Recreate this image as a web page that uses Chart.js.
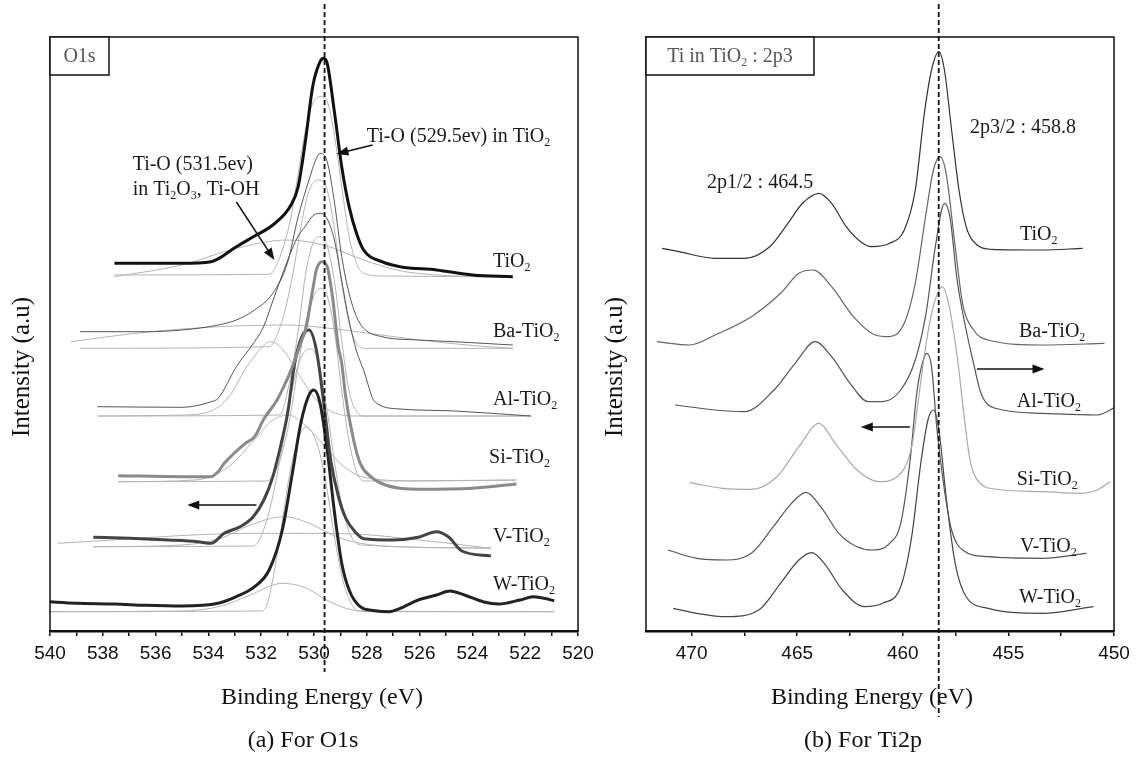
<!DOCTYPE html>
<html>
<head>
<meta charset="utf-8">
<script src="https://cdn.jsdelivr.net/npm/chart.js@4.4.1/dist/chart.umd.min.js"></script>
<style>
  html, body { margin: 0; padding: 0; background: #fff; }
  #wrap { position: relative; width: 1139px; height: 758px; }
  #o1sChart { position: absolute; left: 0; top: 0; }
  #ti2pChart { position: absolute; left: 595px; top: 0; }
</style>
</head>
<body>
<div id="wrap">
  <canvas id="o1sChart" width="595" height="758"></canvas>
  <canvas id="ti2pChart" width="544" height="758"></canvas>
</div>
<script>
// tick values (eV)
const O1S_TICKS = [520, 521, 522, 523, 524, 525, 526, 527, 528, 529, 530, 531, 532, 533, 534, 535, 536, 537, 538, 539, 540];
const TI2P_TICKS = [450, 452.5, 455, 457.5, 460, 462.5, 465, 467.5, 470];

// O1s spectra [binding energy, intensity a.u.]
const O1S_TIO2 = [[537.56,367.7],[535.0,367.7],[533.9,369.3],[532.94,384.3],[532.25,395],[531.56,406],[530.87,426],[530.6,444.3],[530.32,491],[530.05,544.3],[529.77,569.3],[529.64,572.7],[529.5,567.7],[529.22,517.7],[528.95,464.3],[528.67,424.3],[528.39,397.7],[528.12,381],[527.43,369.3],[526.74,364.3],[525.36,361],[523.99,356],[522.47,354.3]];
const O1S_TIO2_FIT1 = [[537.56,356],[531.7,356.7],[531.56,359.3],[531.2,381],[530.87,414.3],[530.6,457.7],[530.32,501],[530.05,527.7],[529.77,534.3],[529.5,529.3],[529.22,494.3],[528.95,444.3],[528.67,394.3],[528.39,367.7],[528.12,357.7],[527.4,355],[522.47,354.3]];
const O1S_TIO2_FIT2 = [[537.56,354.3],[535.0,366],[532.94,382.7],[531.01,391],[529.64,386],[528.12,371],[526.74,360.3],[525.36,356],[522.47,353.7]];

const O1S_BA = [[538.86,299.3],[536.38,299.3],[535.0,301],[533.63,306],[532.94,311],[532.25,321],[531.56,337.7],[531.01,367.7],[530.6,414.3],[530.19,451],[529.91,472.7],[529.77,477.7],[529.5,469.3],[529.22,427.7],[528.95,374.3],[528.67,337.7],[528.39,314.3],[528.12,302.7],[527.43,294.3],[526.05,291],[524.68,289.3],[522.47,286]];
const O1S_BA_FIT1 = [[538.86,282.7],[531.7,284.3],[531.2,311],[530.87,347.7],[530.6,387.7],[530.32,427.7],[530.05,447.7],[529.77,451],[529.5,441],[529.22,401],[528.95,347.7],[528.67,307.7],[528.39,287.7],[528.12,282.7],[522.47,282.7]];
const O1S_BA_FIT2 = [[539.2,289.3],[537.0,297],[535.0,302],[533.0,305],[531.0,306],[529.5,303],[528.0,298],[526.0,291],[524.0,285.5],[522.47,282.7]];

const O1S_AL = [[538.2,224.3],[535.0,223.7],[533.9,229.3],[533.63,232.7],[532.94,264.3],[532.25,289.3],[531.9,305],[531.56,330],[531.01,370],[530.6,395],[530.32,405],[530.05,415],[529.77,417.7],[529.5,412],[529.22,390],[528.95,350],[528.67,310],[528.39,280],[528.12,261],[527.7,229.3],[526.74,222],[524.68,220],[521.78,215]];
const O1S_AL_FIT1 = [[538.2,215],[531.3,216],[531.0,240],[530.6,300],[530.3,360],[530.0,390],[529.77,394.3],[529.5,385],[529.2,345],[528.95,290],[528.67,240],[528.4,220],[528.1,215],[521.78,215]];
const O1S_AL_FIT2 = [[538.2,215],[535.0,216],[533.9,220],[533.2,235],[532.6,262],[532.0,283],[531.7,289.3],[531.3,285],[530.87,270],[530.3,245],[529.8,228],[529.2,218],[528.4,215],[521.78,215]];

const O1S_SI = [[537.42,155.3],[535.0,154.3],[533.9,154.3],[533.63,159.3],[533.4,167.7],[532.6,187.7],[532.25,194.3],[531.9,212],[531.4,231],[530.87,261],[530.46,291],[530.32,301],[530.05,341],[529.91,361],[529.7,369.3],[529.5,364.3],[529.3,334.3],[529.08,284.3],[528.95,267.7],[528.8,234.3],[528.5,191],[528.25,167.7],[527.85,154.3],[527.3,146],[526.05,141.7],[524.0,142.7],[522.33,147]];
const O1S_SI_FIT1 = [[537.42,149.3],[531.8,150],[531.3,170],[530.9,215],[530.6,265],[530.3,310],[530.0,335],[529.77,342.7],[529.5,335],[529.2,295],[528.95,240],[528.67,190],[528.4,160],[528.1,150],[522.33,151]];
const O1S_SI_FIT2 = [[537.42,149.3],[534.5,151],[533.2,165],[532.3,190],[531.6,210],[531.0,216],[530.3,205],[529.6,185],[528.9,165],[528.0,153],[526.0,150],[522.33,151]];

const O1S_V = [[538.36,93.7],[537.0,92.7],[535.5,91],[534.4,89.3],[533.9,87.7],[533.4,97.7],[532.8,104.3],[532.3,114.3],[531.9,131],[531.56,154.3],[531.3,181],[531.0,217.7],[530.73,267.7],[530.46,294.3],[530.19,301],[529.91,281],[529.64,230],[529.36,170],[529.08,135],[528.8,113],[528.4,98],[528.12,92.3],[527.0,91],[526.05,93.7],[525.36,99.3],[524.9,94],[524.4,80],[523.3,75]];
const O1S_V_FIT1 = [[538.36,84.3],[532.3,85],[532.0,95],[531.6,130],[531.2,185],[530.8,245],[530.4,278],[530.1,282],[529.8,265],[529.5,220],[529.2,165],[528.9,120],[528.6,95],[528.2,86],[523.3,83]];
const O1S_V_FIT2 = [[538.36,84.3],[535.0,86],[533.5,93],[532.5,105],[531.14,114.3],[530.2,108],[529.3,96],[528.3,88],[526.5,84],[523.3,83]];
const O1S_V_BG = [[539.7,87.7],[532.25,97.7],[528.8,97.3],[526.0,91],[523.3,82.7]];

const O1S_W = [[540.1,29.3],[539.0,27.7],[537.56,27],[536.38,25.7],[535.0,25],[533.63,27.7],[532.94,34.3],[532.25,44.3],[531.7,61],[531.2,101],[530.8,161],[530.5,207.7],[530.19,236],[530.0,241],[529.77,227.7],[529.5,181],[529.22,117.7],[528.95,67.7],[528.67,41],[528.25,24.3],[527.7,20.3],[527.15,19.3],[526.74,22.7],[526.05,31],[525.36,36],[524.85,40],[524.3,36],[523.6,29.3],[523.0,27],[522.2,31],[521.7,34.3],[521.3,32.7],[520.9,30.3]];
const O1S_W_FIT1 = [[540.1,19.3],[532.0,20],[531.8,25],[531.5,60],[531.2,110],[530.9,160],[530.6,192],[530.3,204],[530.1,200],[529.8,180],[529.5,140],[529.2,90],[528.9,50],[528.6,28],[528.3,20],[520.9,19.3]];
const O1S_W_FIT2 = [[540.1,19.3],[535.0,20],[533.5,25],[532.5,35],[531.2,47.7],[530.3,43],[529.6,32],[528.7,22],[527.8,19.3],[520.9,19.3]];

// Ti2p spectra [binding energy, intensity a.u.]
const TI2P_TIO2 = [[471.4,382.7],[470.6,379.3],[468.89,372.7],[467.5,372.7],[466.3,384.3],[465.44,407.7],[464.75,427.7],[463.97,437.7],[463.37,427.7],[462.68,404.3],[462.0,389.3],[461.48,384.3],[460.62,387.7],[459.93,401],[459.41,441],[458.98,517.7],[458.64,561],[458.29,579.3],[458.03,561],[457.69,501],[457.34,441],[457.0,404.3],[456.48,386],[455.79,381.7],[453.38,381],[451.48,382.7]];
const TI2P_BA = [[471.64,289.3],[470.09,286],[468.89,296],[467.17,314.3],[465.79,337.7],[464.92,357.7],[464.24,361],[463.37,344.3],[462.34,314.3],[461.31,296],[460.62,294.3],[459.93,307.7],[459.41,347.7],[458.9,417.7],[458.55,461],[458.24,474.3],[457.95,457.7],[457.52,384.3],[457.17,327.7],[456.65,301],[455.96,291],[453.38,286],[450.45,287.7]];
const TI2P_AL = [[470.78,226],[468.89,221],[467.5,219.3],[466.1,241],[465.1,267.7],[464.15,289.3],[463.37,274.3],[462.5,247.7],[461.65,229.3],[460.96,229.3],[460.1,241],[459.41,271],[458.9,317.7],[458.46,384.3],[458.03,427.7],[457.77,414.3],[457.43,351],[457.0,301],[456.65,267.7],[456.3,237.7],[455.62,222.7],[453.38,217.7],[450.8,216],[449.76,226]];
const TI2P_SI = [[470.09,148.3],[468.54,142.7],[467.17,141.7],[465.96,154.3],[464.92,184.3],[463.97,207.7],[463.2,187.7],[462.17,161],[461.13,149.3],[460.27,154.3],[459.58,184.3],[459.3,225],[459.07,262],[458.8,300],[458.55,325],[458.3,340],[458.12,344.3],[457.86,330],[457.6,300],[457.35,262],[457.1,215],[456.85,175],[456.65,158],[456.3,147],[455.96,143],[453.38,139.3],[451.65,137.7],[450.8,141],[450.19,149.3]];
const TI2P_V = [[471.13,81],[469.75,72.7],[468.37,71],[467.17,77.7],[466.13,104.3],[465.27,127.7],[464.58,138.7],[463.89,124.3],[463.03,97.7],[462.17,84.3],[461.48,81],[460.62,87.7],[460.1,107.7],[459.67,167.7],[459.32,241],[458.98,274.3],[458.85,277.7],[458.64,264.3],[458.38,201],[458.03,141],[457.69,101],[457.17,81],[455.96,74.3],[453.38,72.7],[451.3,77.7]];
const TI2P_W = [[470.87,22.7],[469.75,17.7],[468.37,14.3],[466.82,21],[465.79,47.7],[464.92,71],[464.32,78.3],[463.72,67.7],[462.86,41],[461.82,24.3],[460.96,27.7],[460.1,44.3],[459.58,94.3],[459.15,167.7],[458.81,211],[458.55,221],[458.29,201],[457.95,134.3],[457.52,67.7],[457.0,34.3],[455.96,22.7],[453.38,17.7],[450.97,24.3]];

const serif = '"Liberation Serif", "Times New Roman", serif';
const sans = '"Liberation Sans", Arial, sans-serif';

// text with "_x" subscripts
function drawRich(ctx, str, x, y, size, align) {
    const runs = [];
    for (let i = 0; i < str.length; i++) {
        if (str[i] === '_' && i + 1 < str.length) { runs.push({t: str[i + 1], sub: true}); i++; }
        else if (runs.length && !runs[runs.length - 1].sub) runs[runs.length - 1].t += str[i];
        else runs.push({t: str[i], sub: false});
    }
    const subSize = Math.round(size * 0.62);
    let w = 0;
    runs.forEach(r => {
        ctx.font = (r.sub ? subSize : size) + 'px ' + serif;
        r.w = ctx.measureText(r.t).width;
        w += r.w;
    });
    let cx = align === 'center' ? x - w / 2 : x;
    ctx.textAlign = 'left';
    ctx.textBaseline = 'middle';
    runs.forEach(r => {
        ctx.font = (r.sub ? subSize : size) + 'px ' + serif;
        ctx.fillText(r.t, cx, r.sub ? y + size * 0.3 : y);
        cx += r.w;
    });
}

function arrow(ctx, x1, y1, x2, y2) {
    const a = Math.atan2(y2 - y1, x2 - x1);
    const c = Math.cos(a), s = Math.sin(a);
    ctx.beginPath();
    ctx.moveTo(x1, y1);
    ctx.lineTo(x2 - 8 * c, y2 - 8 * s);
    ctx.stroke();
    ctx.beginPath();
    ctx.moveTo(x2, y2);
    ctx.lineTo(x2 - 12 * c + 4.5 * s, y2 - 12 * s - 4.5 * c);
    ctx.lineTo(x2 - 12 * c - 4.5 * s, y2 - 12 * s + 4.5 * c);
    ctx.closePath();
    ctx.fill();
}

const decor = {
    id: 'decor',
    afterDraw(chart, args, o) {
        const {ctx, chartArea: a, scales: {x, y}} = chart;
        ctx.save();
        ctx.strokeStyle = '#111';
        ctx.lineWidth = 1.5;
        ctx.strokeRect(a.left, a.top, a.right - a.left, a.bottom - a.top);

        // corner tag
        ctx.fillStyle = '#fff';
        ctx.fillRect(a.left, a.top, o.tagW, 38);
        ctx.strokeRect(a.left, a.top, o.tagW, 38);
        ctx.fillStyle = '#555';
        drawRich(ctx, o.tag, a.left + o.tagW / 2, a.top + 20, 20, 'center');

        // reference line
        const dx = x.getPixelForValue(o.dash);
        ctx.setLineDash([5, 3]);
        ctx.lineWidth = 1.8;
        ctx.beginPath();
        ctx.moveTo(dx, 4);
        ctx.lineTo(dx, o.dashEnd);
        ctx.stroke();
        ctx.setLineDash([]);

        ctx.fillStyle = '#1a1a1a';
        o.labels.forEach(l => drawRich(ctx, l.text, x.getPixelForValue(l.e), y.getPixelForValue(l.i), 20, 'left'));

        ctx.lineWidth = 1.5;
        ctx.fillStyle = '#111';
        o.arrows.forEach(r => arrow(ctx, x.getPixelForValue(r[0]), y.getPixelForValue(r[1]),
                                         x.getPixelForValue(r[2]), y.getPixelForValue(r[3])));

        drawRich(ctx, 'Binding Energy (eV)', o.xTitleX, 698, 24, 'center');
        drawRich(ctx, o.caption, o.captionX, 741, 24, 'center');
        ctx.translate(o.yTitleX, 367);
        ctx.rotate(-Math.PI / 2);
        drawRich(ctx, 'Intensity (a.u)', 0, 0, 25, 'center');
        ctx.restore();
    }
};

function series(points, color, width, order) {
    return {
        data: points.map(p => ({x: p[0], y: p[1]})),
        borderColor: color,
        borderWidth: width,
        pointRadius: 0,
        fill: false,
        cubicInterpolationMode: 'monotone',
        order: order
    };
}

function makeOptions(xMin, xMax, ticks, labelEvery, pad, deco) {
    return {
        responsive: false,
        animation: false,
        devicePixelRatio: 1,
        layout: { padding: pad },
        scales: {
            x: {
                type: 'linear',
                reverse: true,
                min: xMin,
                max: xMax,
                afterBuildTicks: s => { s.ticks = ticks.map(v => ({value: v})); },
                afterFit: s => { s.height = 127; },
                ticks: {
                    callback: v => (v % labelEvery === 0 ? v : ''),
                    font: { family: sans, size: 19 },
                    color: '#111',
                    padding: 6,
                    maxRotation: 0,
                    autoSkip: false
                },
                grid: { drawOnChartArea: false, drawTicks: true, tickLength: 5, color: '#111', lineWidth: 1.5 },
                border: { display: true, color: '#111', width: 2.5 }
            },
            y: { display: false, min: 0, max: 594 }
        },
        plugins: {
            legend: { display: false },
            tooltip: { enabled: false },
            decor: deco
        }
    };
}

const fitGray = '#b4b4b4';

new Chart(document.getElementById('o1sChart').getContext('2d'), {
    type: 'line',
    data: {
        datasets: [
            series(O1S_TIO2, '#111', 3, 0),
            series(O1S_BA, '#555', 1, 0),
            series(O1S_AL, '#555', 1, 0),
            series(O1S_SI, '#8a8a8a', 3, 0),
            series(O1S_V, '#444', 3, 0),
            series(O1S_W, '#222', 3, 0),
            series(O1S_TIO2_FIT1, fitGray, 1, 1),
            series(O1S_TIO2_FIT2, fitGray, 1, 1),
            series(O1S_BA_FIT1, fitGray, 1, 1),
            series(O1S_BA_FIT2, fitGray, 1, 1),
            series(O1S_AL_FIT1, fitGray, 1, 1),
            series(O1S_AL_FIT2, fitGray, 1, 1),
            series(O1S_SI_FIT1, fitGray, 1, 1),
            series(O1S_SI_FIT2, fitGray, 1, 1),
            series(O1S_V_FIT1, fitGray, 1, 1),
            series(O1S_V_FIT2, fitGray, 1, 1),
            series(O1S_V_BG, fitGray, 1, 1),
            series(O1S_W_FIT1, fitGray, 1, 1),
            series(O1S_W_FIT2, fitGray, 1, 1)
        ]
    },
    options: makeOptions(520, 540, O1S_TICKS, 2, {left: 50, top: 37, right: 17, bottom: 0}, {
        tag: 'O1s', tagW: 59,
        dash: 529.6, dashEnd: 672,
        xTitleX: 322, captionX: 303, yTitleX: 22,
        caption: '(a) For O1s',
        labels: [
            {text: 'Ti-O (529.5ev) in TiO_2', e: 528.0, i: 494},
            {text: 'Ti-O (531.5ev)', e: 536.87, i: 466},
            {text: 'in Ti_2O_3, Ti-OH', e: 536.87, i: 441},
            {text: 'TiO_2', e: 523.22, i: 369},
            {text: 'Ba-TiO_2', e: 523.22, i: 299},
            {text: 'Al-TiO_2', e: 523.22, i: 231},
            {text: 'Si-TiO_2', e: 523.37, i: 173},
            {text: 'V-TiO_2', e: 523.22, i: 94},
            {text: 'W-TiO_2', e: 523.22, i: 46}
        ],
        arrows: [
            [527.78, 486, 529.15, 477],
            [532.94, 429, 531.5, 371],
            [532.18, 126, 534.8, 126]
        ]
    }),
    plugins: [decor]
});

new Chart(document.getElementById('ti2pChart').getContext('2d'), {
    type: 'line',
    data: {
        datasets: [
            series(TI2P_TIO2, '#333', 1.2, 0),
            series(TI2P_BA, '#666', 1.2, 0),
            series(TI2P_AL, '#555', 1.2, 0),
            series(TI2P_SI, '#aaa', 1.2, 0),
            series(TI2P_V, '#555', 1.2, 0),
            series(TI2P_W, '#444', 1.2, 0)
        ]
    },
    options: makeOptions(450, 472.16, TI2P_TICKS, 5, {left: 51, top: 37, right: 25, bottom: 0}, {
        tag: 'Ti in TiO_2 : 2p3', tagW: 168,
        dash: 458.3, dashEnd: 717,
        xTitleX: 277, captionX: 268, yTitleX: 20.5,
        caption: '(b) For Ti2p',
        labels: [
            {text: '2p3/2 : 458.8', e: 456.82, i: 503},
            {text: '2p1/2 : 464.5', e: 469.27, i: 448},
            {text: 'TiO_2', e: 454.45, i: 396},
            {text: 'Ba-TiO_2', e: 454.5, i: 299},
            {text: 'Al-TiO_2', e: 454.6, i: 229},
            {text: 'Si-TiO_2', e: 454.6, i: 151},
            {text: 'V-TiO_2', e: 454.45, i: 84},
            {text: 'W-TiO_2', e: 454.5, i: 33}
        ],
        arrows: [
            [456.49, 262, 453.29, 262],
            [459.67, 204, 461.99, 204]
        ]
    }),
    plugins: [decor]
});
</script>
</body>
</html>
